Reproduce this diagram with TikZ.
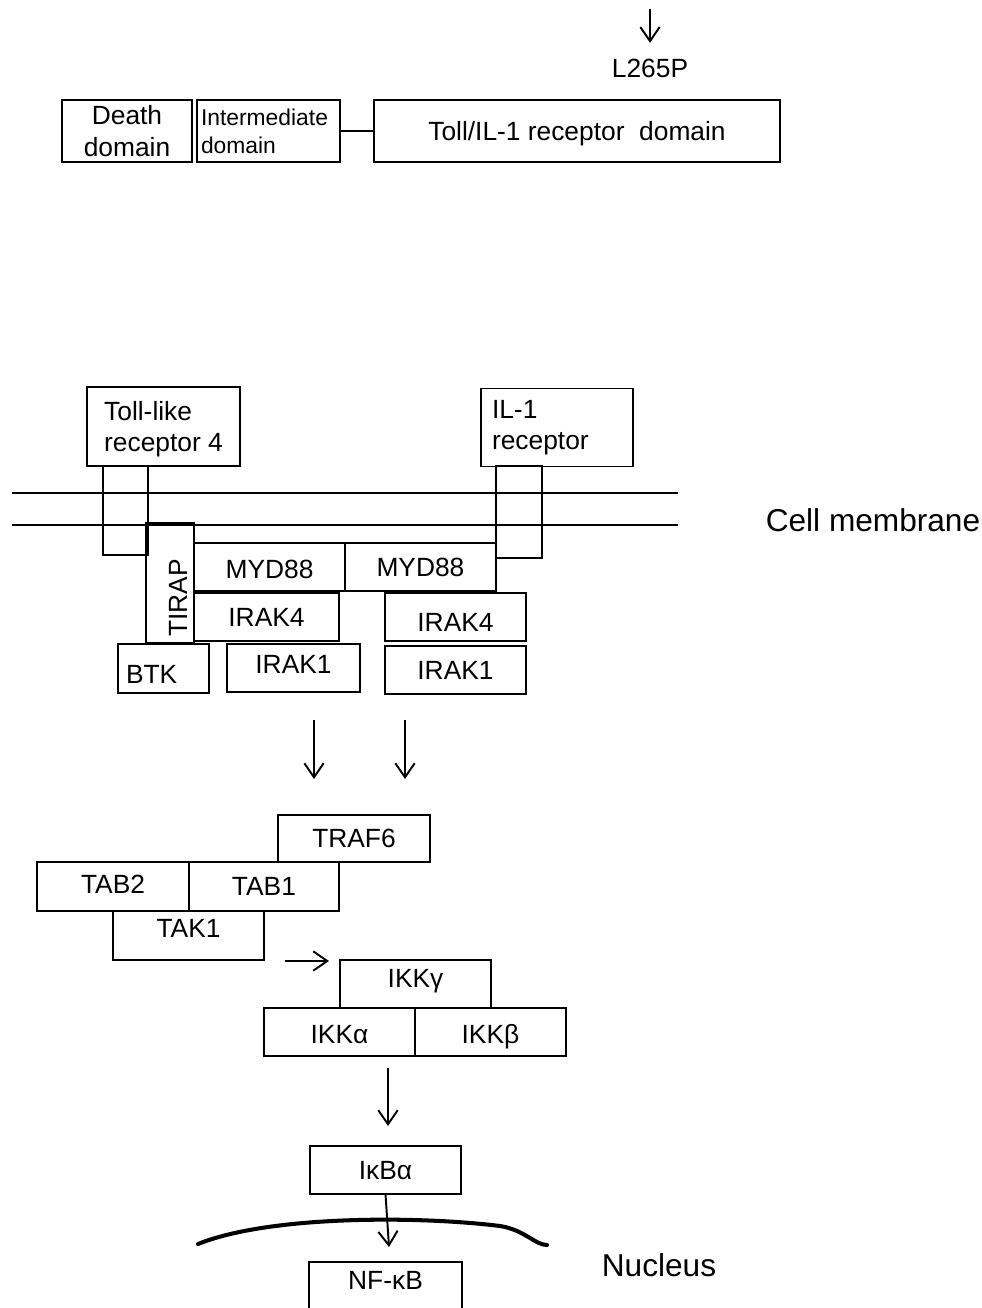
\documentclass[tikz,border=0pt]{standalone}
\usepackage{fontspec}
\setmainfont{Liberation Sans}
\usetikzlibrary{positioning,arrows.meta}

\begin{document}
\begin{tikzpicture}[x=0.02cm, y=-0.02cm,
    block/.style={rectangle, draw, line width=0.9pt, inner sep=0pt, outer sep=0pt, minimum width=3.02cm, minimum height=0.96cm, align=center, text depth=0pt, font=\fontsize{15}{18}\selectfont},
    line/.style={draw, line width=1.1pt, -{Straight Barb[length=8pt,width=11pt,line width=1.1pt]}},
    memb/.style={draw, line width=1pt},
    lbl/.style={font=\fontsize{18}{22}\selectfont}]

    \clip (0,0) rectangle (982,1308);

    % MYD88 domains
    \node [block, minimum width=2.6cm, minimum height=1.24cm] (death) at (127,131) {Death\\domain};
    \node [block, minimum width=2.86cm, minimum height=1.24cm, text width=2.7cm, align=left, text depth=, font=\fontsize{13}{16}\selectfont] (inter) at (268.5,131) {Intermediate\\domain};
    \node [block, minimum width=8.12cm, minimum height=1.24cm] (tir) at (577,131) {Toll/IL-1 receptor\ \ domain};
    \node [font=\fontsize{15}{18}\selectfont] (l265p) at (650,68) {L265P};
    \coordinate (mut) at (650,9);
    \path [line, shorten >=5.5pt] (mut) -- (l265p.north);
    \draw [line width=0.9pt] (inter) -- (tir);

    % receptors and membrane
    \node [block, minimum width=3.06cm, minimum height=1.58cm, align=left] (tlr4) at (163.5,426.5) {Toll-like\\receptor 4};
    \node [block, minimum width=3.04cm, minimum height=1.56cm, text width=2.6cm, align=left, text depth=] (il1r) at (557,427.5) {IL-1\\receptor};
    \draw [memb] (12,493) -- (678,493);
    \draw [memb] (12,525) -- (678,525);
    \node [block, minimum width=0.9cm, minimum height=1.78cm] (tlrtm) at (125.5,510.5) {};
    \node [block, minimum width=0.92cm, minimum height=1.84cm] (il1tm) at (519,512) {};
    \node [lbl] (membrane) at (873,520) {Cell membrane};

    % adaptors
    \node [block, rotate=90, minimum width=2.4cm, minimum height=0.96cm, text width=2.16cm, align=left, text height=20pt] (tirap) at (170,583) {TIRAP};
    \node [block, text height=13pt] (myd88a) at (269.5,567) {MYD88};
    \node [block, right=0pt of myd88a] (myd88b) {MYD88};
    \node [block, minimum width=2.9cm] (irak4a) at (266.5,617) {IRAK4};
    \node [block, minimum width=2.82cm, text height=17pt] (irak4b) at (455.5,617) {IRAK4};
    \node [block, minimum width=1.82cm, minimum height=0.98cm, text width=1.5cm, align=left, text height=17pt] (btk) at (163.5,668.5) {BTK};
    \node [block, minimum width=2.66cm, text depth=4pt] (irak1a) at (293.5,668) {IRAK1};
    \node [block, minimum width=2.82cm] (irak1b) at (455.5,670) {IRAK1};

    \coordinate (ltop) at (314,720);
    \coordinate (lbot) at (314,779);
    \coordinate (rtop) at (405,720);
    \coordinate (rbot) at (405,779);
    \path [line] (ltop) -- (lbot);
    \path [line] (rtop) -- (rbot);

    % TRAF6 / TAK1 complex
    \node [block, minimum width=3.04cm, minimum height=0.94cm] (traf6) at (354,838.5) {TRAF6};
    \node [block, minimum width=3.04cm, minimum height=0.98cm, text depth=2pt] (tab2) at (113,886.5) {TAB2};
    \node [block, minimum width=3.0cm, minimum height=0.98cm, right=0pt of tab2] (tab1) {TAB1};
    \node [block, minimum height=0.98cm, text depth=8pt] (tak1) at (188.5,935.5) {TAK1};

    \coordinate (tkout) at (285,961);
    \coordinate (ikin) at (329,961);
    \path [line] (tkout) -- (ikin);

    % IKK complex
    \node [block, text depth=6pt] (ikkg) at (415.5,984) {IKKγ};
    \node [block, text height=13pt] (ikka) at (339.5,1032) {IKKα};
    \node [block, text height=13pt, right=0pt of ikka] (ikkb) {IKKβ};

    \coordinate (ikout) at (388,1068);
    \coordinate (ibin) at (388,1126);
    \path [line] (ikout) -- (ibin);

    \node [block] (ikba) at (385.5,1170) {IκBα};
    \coordinate (nfin) at (389,1247);
    \path [line] (ikba.south) -- (nfin);

    % nucleus
    \draw [line width=2.3pt, line cap=round] (198,1244) .. controls (270,1215) and (420,1216) .. (500,1226) .. controls (525,1230) and (535,1245) .. (547,1245);
    \node [block, minimum width=3.06cm, minimum height=1.08cm, text depth=10pt] (nfkb) at (385.5,1289) {NF-κB};
    \node [lbl] (nucleus) at (659,1265) {Nucleus};
\end{tikzpicture}
\end{document}
